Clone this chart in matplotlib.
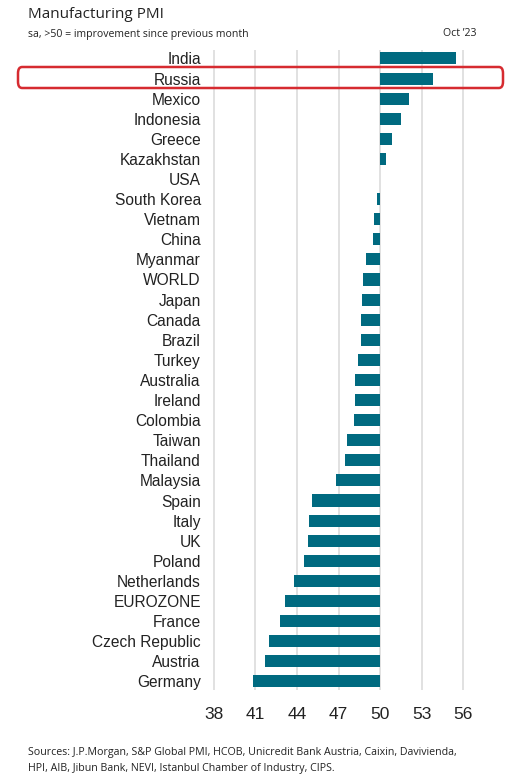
import matplotlib
matplotlib.use("Agg")
import matplotlib.pyplot as plt
from matplotlib.patches import FancyBboxPatch

countries = ["India", "Russia", "Mexico", "Indonesia", "Greece", "Kazakhstan", "USA",
             "South Korea", "Vietnam", "China", "Myanmar", "WORLD", "Japan", "Canada",
             "Brazil", "Turkey", "Australia", "Ireland", "Colombia", "Taiwan", "Thailand",
             "Malaysia", "Spain", "Italy", "UK", "Poland", "Netherlands", "EUROZONE",
             "France", "Czech Republic", "Austria", "Germany"]
pmi = [55.5, 53.8, 52.1, 51.5, 50.9, 50.4, 50.0,
       49.8, 49.6, 49.5, 49.0, 48.8, 48.7, 48.6,
       48.6, 48.4, 48.2, 48.2, 48.1, 47.6, 47.5,
       46.8, 45.1, 44.9, 44.8, 44.5, 43.8, 43.1,
       42.8, 42.0, 41.7, 40.8]
xticks = [38, 41, 44, 47, 50, 53, 56]
base = 50

W, H = 510, 783
fig = plt.figure(figsize=(W / 100, H / 100), dpi=100)
fig.patch.set_facecolor("white")

n = len(countries)
top_px = 50
ax_h = 640
ax = fig.add_axes([213.3 / W, (H - top_px - ax_h) / H, 250.4 / W, ax_h / H])
ypos = list(range(n))
widths = [v - base for v in pmi]
ax.barh(ypos, widths, left=base, height=0.6, color="#006A80", zorder=3)
ax.set_xlim(37.95, 56.05)
ax.set_ylim(n - 1 + 0.43, -0.42)
ax.set_xticks(xticks)
ax.set_xticklabels([str(t) for t in xticks], fontsize=12.5, family="Liberation Sans", color="#222222")
ax.set_yticks(ypos)
ax.set_yticklabels(countries, fontsize=11.2, family="Liberation Sans", color="#222222")
ax.tick_params(axis="both", length=0)
ax.tick_params(axis="x", pad=12)
ax.tick_params(axis="y", pad=9)
ax.grid(axis="x", color="#dcdcdc", linewidth=1.2, zorder=0)
ax.grid(axis="y", visible=False)
for s in ax.spines.values():
    s.set_visible(False)

fig.text(28 / W, 1 - 15 / H, "Manufacturing PMI", fontsize=11, family="Open Sans",
         color="#222222", va="center", ha="left")
fig.text(28 / W, 1 - 34 / H, "sa, >50 = improvement since previous month", fontsize=7.6,
         family="Open Sans", color="#222222", va="center", ha="left")
fig.text(477 / W, 1 - 34 / H, "Oct \u201923", fontsize=7.6, family="Open Sans",
         color="#222222", va="center", ha="right")
fig.text(28 / W, 1 - 752 / H,
         "Sources: J.P.Morgan, S&P Global PMI, HCOB, Unicredit Bank Austria, Caixin, Davivienda,",
         fontsize=7.7, family="Open Sans", color="#222222", va="center", ha="left")
fig.text(28 / W, 1 - 768 / H,
         "HPI, AIB, Jibun Bank, NEVI, Istanbul Chamber of Industry, CIPS.",
         fontsize=7.7, family="Open Sans", color="#222222", va="center", ha="left")

box = FancyBboxPatch((18 / W, 1 - 88 / H), (503 - 18) / W, 21 / H,
                     boxstyle="round,pad=0,rounding_size=0.008",
                     transform=fig.transFigure, fill=False, edgecolor="#D62B30",
                     linewidth=1.8, zorder=10)
fig.patches.append(box)

fig.savefig("out.png", dpi=100, facecolor="white")
